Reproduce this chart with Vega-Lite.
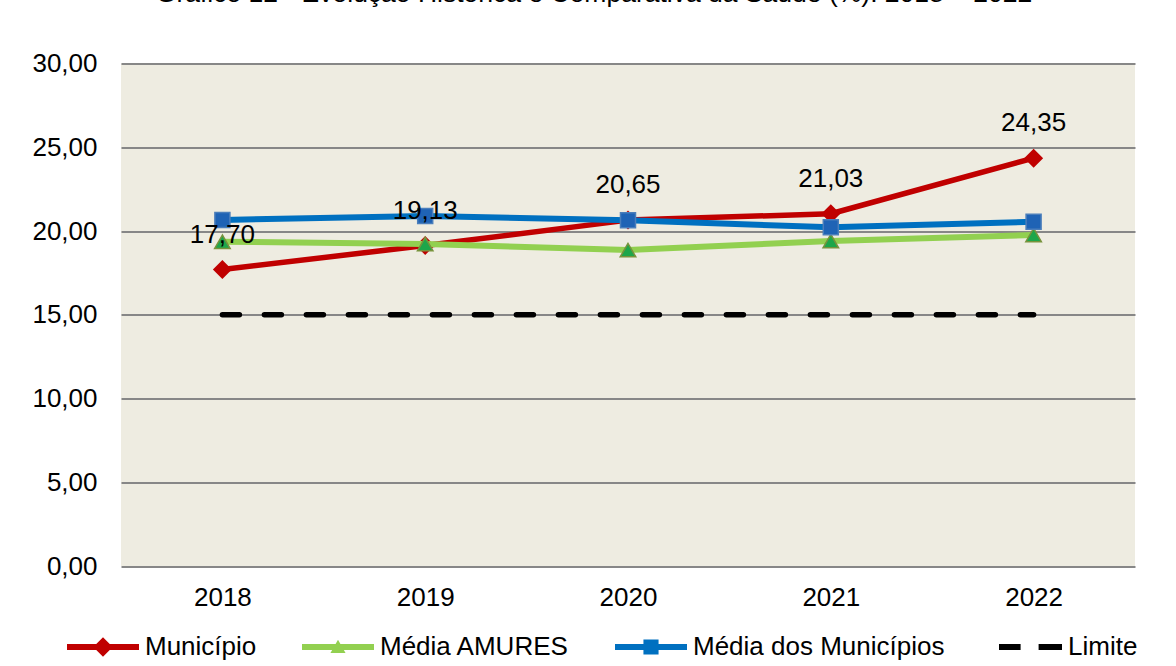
{
  "$schema": "https://vega.github.io/schema/vega-lite/v6.json",
  "width": 1014,
  "height": 502.5,
  "autosize": {"type": "none"},
  "padding": {"left": 121, "top": 63.5, "right": 41, "bottom": 100},
  "background": "white",
  "config": {
    "font": "Liberation Sans",
    "locale": {"number": {"decimal": ",", "thousands": ".", "grouping": [3], "currency": ["R$", ""]}},
    "view": {"fill": "#EEECE1", "stroke": null},
    "axis": {"labelFont": "Liberation Sans", "labelFontSize": 26, "labelColor": "#000000", "domain": false, "ticks": false, "title": null}
  },
  "title": {
    "text": "Gráfico 12 - Evolução Histórica e Comparativa da Saúde (%): 2018 – 2022",
    "font": "Liberation Sans",
    "fontSize": 26.5,
    "fontWeight": "normal",
    "color": "#000000",
    "anchor": "middle",
    "frame": "group",
    "dx": -34,
    "offset": 22,
    "baseline": "alphabetic",
    "limit": 1200
  },
  "data": {
    "values": [
      {"ano": "2018", "serie": "Município", "valor": 17.70},
      {"ano": "2019", "serie": "Município", "valor": 19.13},
      {"ano": "2020", "serie": "Município", "valor": 20.65},
      {"ano": "2021", "serie": "Município", "valor": 21.03},
      {"ano": "2022", "serie": "Município", "valor": 24.35},
      {"ano": "2018", "serie": "Média AMURES", "valor": 19.36},
      {"ano": "2019", "serie": "Média AMURES", "valor": 19.22},
      {"ano": "2020", "serie": "Média AMURES", "valor": 18.86},
      {"ano": "2021", "serie": "Média AMURES", "valor": 19.40},
      {"ano": "2022", "serie": "Média AMURES", "valor": 19.76},
      {"ano": "2018", "serie": "Média dos Municípios", "valor": 20.66},
      {"ano": "2019", "serie": "Média dos Municípios", "valor": 20.90},
      {"ano": "2020", "serie": "Média dos Municípios", "valor": 20.64},
      {"ano": "2021", "serie": "Média dos Municípios", "valor": 20.22},
      {"ano": "2022", "serie": "Média dos Municípios", "valor": 20.55},
      {"ano": "2018", "serie": "Limite", "valor": 15},
      {"ano": "2019", "serie": "Limite", "valor": 15},
      {"ano": "2020", "serie": "Limite", "valor": 15},
      {"ano": "2021", "serie": "Limite", "valor": 15},
      {"ano": "2022", "serie": "Limite", "valor": 15}
    ]
  },
  "encoding": {
    "x": {
      "field": "ano",
      "type": "ordinal",
      "scale": {"type": "point", "padding": 0.5},
      "axis": {"labelAngle": 0, "labelPadding": 18, "grid": false}
    },
    "y": {
      "field": "valor",
      "type": "quantitative",
      "scale": {"domain": [0, 30], "nice": false, "zero": true},
      "axis": {
        "values": [0, 5, 10, 15, 20, 25, 30],
        "format": ".2f",
        "grid": true,
        "gridColor": "#878787",
        "gridWidth": 2,
        "gridOpacity": 1,
        "labelPadding": 24
      }
    }
  },
  "layer": [
    {
      "transform": [{"filter": "datum.serie === 'Município'"}],
      "mark": {"type": "line", "strokeWidth": 5.5, "strokeJoin": "round"},
      "encoding": {
        "color": {
          "field": "serie",
          "type": "nominal",
          "scale": {
            "domain": ["Município", "Média AMURES", "Média dos Municípios", "Limite"],
            "range": ["#C00000", "#92D050", "#0070C0", "#000000"]
          },
          "legend": {
            "orient": "none",
            "legendX": -54,
            "legendY": 547.5,
            "direction": "horizontal",
            "title": null,
            "padding": 0,
            "labelFont": "Liberation Sans",
            "labelFontSize": 26,
            "labelColor": "#000000",
            "labelOffset": 6,
            "labelLimit": 500,
            "columnPadding": 45,
            "symbolSize": 5184,
            "symbolStrokeWidth": 0,
            "encode": {
              "symbols": {
                "update": {
                  "shape": {"signal": "datum.value === 'Município' ? 'M-1,-0.08L1,-0.08L1,0.08L-1,0.08Z M0,-0.27L0.27,0L0,0.27L-0.27,0Z' : datum.value === 'Média AMURES' ? 'M-1,-0.08L1,-0.08L1,0.08L-1,0.08Z M0,-0.2L0.21,0.17L-0.21,0.17Z' : datum.value === 'Média dos Municípios' ? 'M-1,-0.08L1,-0.08L1,0.08L-1,0.08Z M-0.21,-0.21L0.21,-0.21L0.21,0.21L-0.21,0.21Z' : 'M-0.75,-0.085L-0.15,-0.085L-0.15,0.085L-0.75,0.085Z M0.35,-0.085L1,-0.085L1,0.085L0.35,0.085Z'"},
                  "fill": {"scale": "color", "field": "value"},
                  "fillOpacity": {"value": 1},
                  "opacity": {"value": 1},
                  "strokeWidth": {"value": 0}
                }
              }
            }
          }
        }
      }
    },
    {
      "transform": [{"filter": "datum.serie === 'Município'"}],
      "mark": {"type": "point", "shape": "diamond", "size": 361, "filled": true, "fill": "#C00000", "opacity": 1, "strokeWidth": 0}
    },
    {
      "transform": [{"filter": "datum.serie === 'Média AMURES'"}],
      "mark": {"type": "line", "strokeWidth": 6, "strokeJoin": "round"},
      "encoding": {"color": {"field": "serie", "type": "nominal"}}
    },
    {
      "transform": [{"filter": "datum.serie === 'Média AMURES'"}],
      "mark": {"type": "point", "shape": "triangle-up", "size": 240, "filled": true, "fill": "#1DA64A", "stroke": "#77933C", "strokeWidth": 1.5, "opacity": 1}
    },
    {
      "transform": [{"filter": "datum.serie === 'Média dos Municípios'"}],
      "mark": {"type": "line", "strokeWidth": 6, "strokeJoin": "round"},
      "encoding": {"color": {"field": "serie", "type": "nominal"}}
    },
    {
      "transform": [{"filter": "datum.serie === 'Média dos Municípios'"}],
      "mark": {"type": "point", "shape": "square", "size": 225, "filled": true, "fill": "#1F63B5", "stroke": "#4A7EBB", "strokeWidth": 1.5, "opacity": 1}
    },
    {
      "transform": [{"filter": "datum.serie === 'Limite'"}],
      "mark": {"type": "line", "strokeWidth": 5.5, "strokeCap": "round", "strokeDash": [17, 25]},
      "encoding": {"color": {"field": "serie", "type": "nominal"}}
    },
    {
      "transform": [{"filter": "datum.serie === 'Município'"}],
      "mark": {"type": "text", "font": "Liberation Sans", "fontSize": 26, "color": "#000000", "baseline": "alphabetic", "align": "center", "dy": -27},
      "encoding": {"text": {"field": "valor", "type": "quantitative", "format": ".2f"}}
    }
  ]
}
